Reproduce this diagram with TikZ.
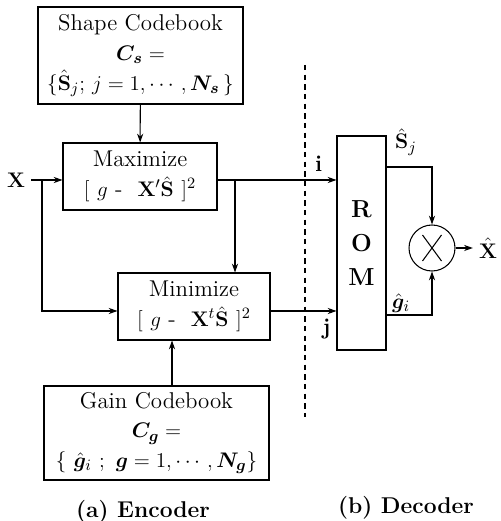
\documentclass[tikz,border=0pt]{standalone}
\usepackage{amsmath}
\usepackage{amssymb}
\usepackage{bm}
\usepackage{tikz}
\usetikzlibrary{arrows.meta}
\tikzset{
    >={Stealth[length=5pt,width=3.5pt]},
    block/.style={draw, line width=0.6pt, inner sep=0pt, align=center},
    wire/.style={line width=0.6pt},
    every node/.style={font=\fontsize{13}{17}\selectfont}
}

\begin{document}
\begin{tikzpicture}[>={Stealth[length=5pt,width=3.5pt]}]
    \useasboundingbox (0,0) rectangle (10.02,10.42);

    % encoder
    \node[block, minimum width=4.10cm, minimum height=1.94cm] (shapebook) at (2.81,9.31)
        {Shape Codebook\\ $\bm{C}_{\bm{s}}=$\\ $\{\hat{\mathbf{S}}_j;\,j=1,\cdots,\bm{N}_{\bm{s}}\,\}$};
    \node[block, minimum width=3.08cm, minimum height=1.34cm] (maxi) at (2.80,6.89)
        {Maximize\\ $[\ g\ \text{-}\ \ \mathbf{X}'\hat{\mathbf{S}}\ ]^2$};
    \node[block, minimum width=3.04cm, minimum height=1.34cm] (mini) at (3.88,4.29)
        {Minimize\\ $[\ g\ \text{-}\ \ \mathbf{X}^t\hat{\mathbf{S}}\ ]^2$};
    \node[block, minimum width=4.50cm, minimum height=1.88cm] (gainbook) at (3.13,1.76)
        {Gain Codebook\\ $\bm{C}_{\bm{g}}=$\\ $\{\ \hat{\bm{g}}_i\ ;\ \bm{g}=1,\cdots,\bm{N}_{\bm{g}}\}$};

    \node (xin) at (0.32,6.82) {$\mathbf{X}$};
    \coordinate (xsplit) at (0.84,6.82);
    \coordinate (msplit) at (4.70,6.82);
    \coordinate (gup) at (3.44,0);

    \draw[wire,->] (xin.east) -- (maxi.west |- xin);
    \draw[wire,->] (xsplit) |- ([yshift=-0.09cm]mini.west);
    \draw[wire,->] (shapebook) -- (maxi);
    \draw[wire,->] (msplit) -- (mini.north -| msplit);
    \draw[wire,->] (gainbook.north -| gup) -- (mini.south -| gup);

    \draw[wire, dash pattern=on 3pt off 2.5pt] (6.10,9.12) -- (6.10,2.08);

    % decoder
    \node[block, minimum width=0.98cm, minimum height=4.28cm, font=\bfseries\fontsize{14}{19.5}\selectfont] (rom) at (7.23,5.56) {R\\O\\M};
    \node[draw, circle, line width=0.6pt, minimum size=0.92cm, inner sep=0pt] (mult) at (8.64,5.46) {};
    \draw[wire] ([shift={(-0.19,0.26)}]mult.center) -- ([shift={(0.19,-0.26)}]mult.center);
    \draw[wire] ([shift={(-0.19,-0.26)}]mult.center) -- ([shift={(0.19,0.26)}]mult.center);
    \node (xhat) at (9.76,5.46) {$\hat{\mathbf{X}}$};

    \draw[wire,->] (maxi.east |- xin) -- (rom.west |- xin) node[pos=0.85, above=1pt] {\textbf{i}};
    \draw[wire,->] ([yshift=-0.09cm]mini.east) -- (rom.west |- 0,4.20) node[pos=0.85, below=1pt] {\textbf{j}};
    \draw[wire,->] (rom.east |- 0,7.08) -| (mult.north);
    \draw[wire,->] (rom.east |- 0,4.12) -| (mult.south);
    \draw[wire,->] (mult.east) -- (xhat.west);

    \node at (8.12,7.58) {$\hat{\mathbf{S}}_j$};
    \node at (8.02,4.36) {$\hat{\bm{g}}_i$};

    \node[font=\bfseries\fontsize{13}{16}\selectfont] at (2.86,0.18) {(a) Encoder};
    \node[font=\bfseries\fontsize{13}{16}\selectfont] at (8.12,0.26) {(b) Decoder};

\end{tikzpicture}
\end{document}
